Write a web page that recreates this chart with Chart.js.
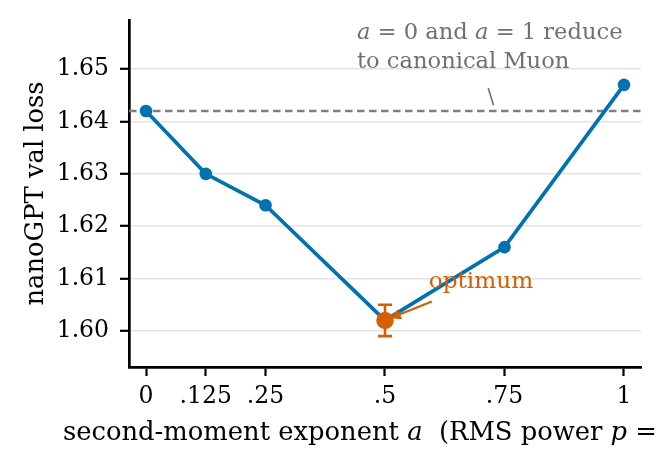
<!DOCTYPE html>
<html>
<head>
<meta charset="utf-8">
<script src="https://cdn.jsdelivr.net/npm/chart.js@4/dist/chart.umd.min.js"></script>
<style>
  html, body { margin: 0; padding: 0; background: #ffffff; }
  #wrap { width: 662px; height: 471px; position: relative; }
</style>
</head>
<body>
<div id="wrap"><canvas id="c" width="662" height="471"></canvas></div>
<script>
// ---- data ----
const A_VALUES = [0, 0.125, 0.25, 0.5, 0.75, 1];
const VAL_LOSS = [1.642, 1.630, 1.624, 1.602, 1.616, 1.647];
const OPT_A = [0.5];
const OPT_LOSS = [1.602];
const OPT_ERR = [0.003];
const BASELINE_LOSS = 1.642;
const X_TICKS = [0, 0.125, 0.25, 0.5, 0.75, 1];
const X_TICK_LABELS = ['0', '.125', '.25', '.5', '.75', '1'];
const Y_TICKS = [1.60, 1.61, 1.62, 1.63, 1.64, 1.65];

const BLUE = '#0072B2';
const ORANGE = '#D55E00';
const SERIF = "'DejaVu Serif', serif";
const TICK_PX = 23.5, LABEL_PX = 25.8, ANN_PX = 22.6;

const extrasPlugin = {
  id: 'extras',
  beforeDatasetsDraw(chart) {
    const {ctx, chartArea, scales} = chart;
    const y = scales.y.getPixelForValue(BASELINE_LOSS);
    ctx.save();
    ctx.strokeStyle = '#7f7f7f';
    ctx.lineWidth = 2.6;
    ctx.setLineDash([7.5, 4.5]);
    ctx.beginPath();
    ctx.moveTo(chartArea.left, y);
    ctx.lineTo(chartArea.right, y);
    ctx.stroke();
    ctx.restore();
  },
  afterDatasetsDraw(chart) {
    const {ctx, scales} = chart;
    const xs = scales.x, ys = scales.y;
    ctx.save();
    // error bar
    OPT_A.forEach((a, i) => {
      const px = xs.getPixelForValue(a);
      const top = ys.getPixelForValue(OPT_LOSS[i] + OPT_ERR[i]);
      const bot = ys.getPixelForValue(OPT_LOSS[i] - OPT_ERR[i]);
      ctx.strokeStyle = ORANGE;
      ctx.lineWidth = 2.6;
      ctx.beginPath();
      ctx.moveTo(px, top); ctx.lineTo(px, bot);
      ctx.moveTo(px - 7, top); ctx.lineTo(px + 7, top);
      ctx.moveTo(px - 7, bot); ctx.lineTo(px + 7, bot);
      ctx.stroke();
    });

    // grey annotation
    ctx.fillStyle = '#707070';
    ctx.textBaseline = 'alphabetic';
    ctx.textAlign = 'left';
    const tx = xs.getPixelForValue(0.4414);
    const ty = ys.getPixelForValue(1.6557);
    const parts = [
      ['italic ' + ANN_PX + 'px ' + SERIF, 'a'], [ANN_PX + 'px ' + SERIF, ' = 0 and '],
      ['italic ' + ANN_PX + 'px ' + SERIF, 'a'], [ANN_PX + 'px ' + SERIF, ' = 1 reduce']
    ];
    let cx = tx;
    parts.forEach(([f, t]) => { ctx.font = f; ctx.fillText(t, cx, ty); cx += ctx.measureText(t).width; });
    ctx.font = ANN_PX + 'px ' + SERIF;
    ctx.fillText('to canonical Muon', tx, ys.getPixelForValue(1.6502));
    ctx.strokeStyle = '#707070';
    ctx.lineWidth = 1.6;
    ctx.beginPath();
    ctx.moveTo(xs.getPixelForValue(0.716), ys.getPixelForValue(1.6464));
    ctx.lineTo(xs.getPixelForValue(0.727), ys.getPixelForValue(1.6431));
    ctx.stroke();

    // optimum annotation
    ctx.fillStyle = ORANGE;
    ctx.font = (ANN_PX + 0.6) + 'px ' + SERIF;
    ctx.fillText('optimum', xs.getPixelForValue(0.5914), ys.getPixelForValue(1.6081));
    const x0 = xs.getPixelForValue(0.598), y0 = ys.getPixelForValue(1.6056);
    const x1 = xs.getPixelForValue(0.510), y1 = ys.getPixelForValue(1.6024);
    const ang = Math.atan2(y1 - y0, x1 - x0);
    const hl = 11, hw = 5.5;
    const bx = x1 - hl * Math.cos(ang), by = y1 - hl * Math.sin(ang);
    ctx.strokeStyle = ORANGE;
    ctx.lineWidth = 2.2;
    ctx.beginPath();
    ctx.moveTo(x0, y0); ctx.lineTo(bx, by);
    ctx.stroke();
    ctx.beginPath();
    ctx.moveTo(x1, y1);
    ctx.lineTo(bx + hw * Math.sin(ang), by - hw * Math.cos(ang));
    ctx.lineTo(bx - hw * Math.sin(ang), by + hw * Math.cos(ang));
    ctx.closePath();
    ctx.fill();
    ctx.restore();
  },
  afterDraw(chart) {
    const {ctx, chartArea} = chart;
    ctx.save();
    ctx.fillStyle = '#000';
    ctx.textBaseline = 'alphabetic';
    const R = LABEL_PX + 'px ' + SERIF, I = 'italic ' + LABEL_PX + 'px ' + SERIF;
    const parts = [
      [R, 'second-moment exponent '], [I, 'a'],
      [R, '  (RMS power '], [I, 'p'],
      [R, ' = 2'], [I, 'a'], [R, ')']
    ];
    let total = 0;
    parts.forEach(([f, t]) => { ctx.font = f; total += ctx.measureText(t).width; });
    let x = (chartArea.left + chartArea.right) / 2 - total / 2;
    parts.forEach(([f, t]) => { ctx.font = f; ctx.fillText(t, x, 440); x += ctx.measureText(t).width; });
    // y title
    ctx.translate(43, (chartArea.top + chartArea.bottom) / 2);
    ctx.rotate(-Math.PI / 2);
    ctx.textAlign = 'center';
    ctx.font = R;
    ctx.fillText('nanoGPT val loss', 0, 0);
    ctx.restore();
  }
};

new Chart(document.getElementById('c'), {
  type: 'line',
  data: {
    datasets: [
      {
        label: 'optimum',
        data: OPT_A.map((a, i) => ({x: a, y: OPT_LOSS[i]})),
        showLine: false,
        pointRadius: 8.7,
        pointBorderWidth: 0,
        pointBackgroundColor: ORANGE,
        pointBorderColor: ORANGE,
        borderColor: ORANGE,
        order: 0
      },
      {
        label: 'val loss',
        data: A_VALUES.map((a, i) => ({x: a, y: VAL_LOSS[i]})),
        borderColor: BLUE,
        backgroundColor: BLUE,
        borderWidth: 3.7,
        pointRadius: 6.3,
        pointBorderWidth: 0,
        pointBackgroundColor: BLUE,
        pointBorderColor: BLUE,
        tension: 0,
        order: 1
      }
    ]
  },
  options: {
    responsive: false,
    animation: false,
    devicePixelRatio: 1,
    layout: { padding: { left: 0, right: 21, top: 20, bottom: 0 } },
    plugins: { legend: { display: false }, tooltip: { enabled: false } },
    scales: {
      x: {
        type: 'linear',
        min: -0.0356,
        max: 1.0356,
        afterBuildTicks(s) { s.ticks = X_TICKS.map(v => ({value: v})); },
        afterFit(s) { s.height = 104; s.paddingLeft = 0; s.paddingRight = 0; },
        ticks: {
          autoSkip: false,
          maxRotation: 0,
          padding: 7,
          color: '#000',
          font: { family: SERIF, size: TICK_PX },
          callback(v) { const i = X_TICKS.indexOf(v); return i >= 0 ? X_TICK_LABELS[i] : ''; }
        },
        grid: { drawOnChartArea: false, drawTicks: true, tickLength: 9, tickColor: '#000', tickWidth: 2.2 },
        border: { display: true, color: '#000', width: 2.7 }
      },
      y: {
        type: 'linear',
        min: 1.5931,
        max: 1.6594,
        afterBuildTicks(s) { s.ticks = Y_TICKS.map(v => ({value: v})); },
        afterFit(s) { s.width = 129; s.paddingTop = 0; s.paddingBottom = 0; },
        ticks: {
          autoSkip: false,
          padding: 11,
          color: '#000',
          font: { family: SERIF, size: TICK_PX },
          callback(v) { return Number(v).toFixed(2); }
        },
        grid: { color: '#e3e3e3', lineWidth: 1.6, drawTicks: true, tickLength: 9, tickColor: '#000', tickWidth: 2.2 },
        border: { display: true, color: '#000', width: 2.7 }
      }
    }
  },
  plugins: [extrasPlugin]
});
</script>
</body>
</html>
